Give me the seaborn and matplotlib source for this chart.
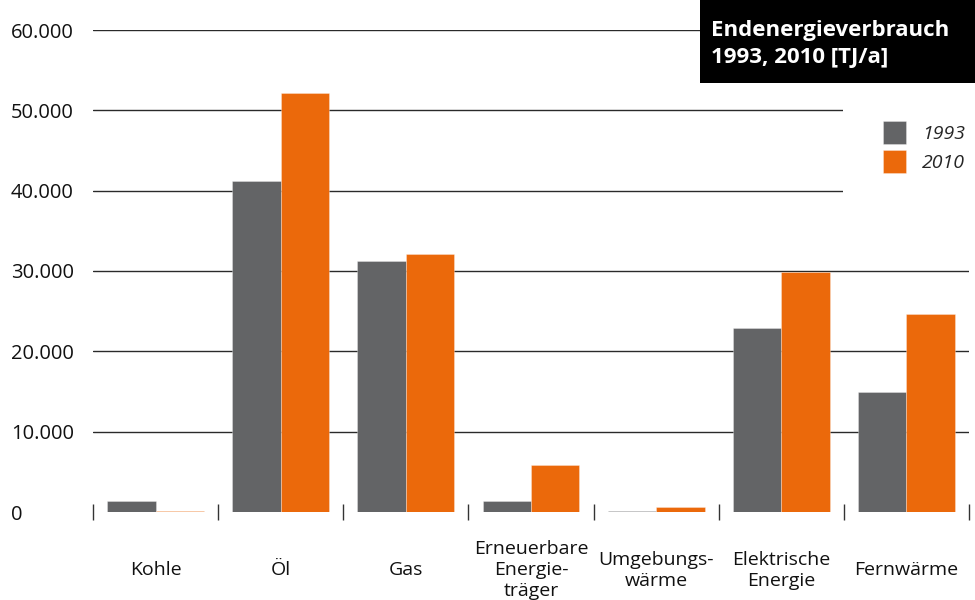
import matplotlib
matplotlib.use("Agg")
import matplotlib.pyplot as plt
from matplotlib.patches import Rectangle
import seaborn as sns
import pandas as pd

# Endenergieverbrauch nach Energieträger, TJ/a
kategorien = ["Kohle", "Öl", "Gas", "Erneuerbare\nEnergie-\nträger",
              "Umgebungs-\nwärme", "Elektrische\nEnergie", "Fernwärme"]
werte_1993 = [1350, 41200, 31300, 1370, 80, 22850, 15000]
werte_2010 = [80, 52150, 32130, 5850, 660, 29850, 24600]
jahre = ["1993", "2010"]
y_ticks = [0, 10000, 20000, 30000, 40000, 50000, 60000]
y_tick_labels = ["0", "10.000", "20.000", "30.000", "40.000", "50.000", "60.000"]
titel = "Endenergieverbrauch\n1993, 2010 [TJ/a]"

GRAU = "#636466"
ORANGE = "#EB690B"

df = pd.DataFrame({
    "Kategorie": kategorien * 2,
    "Wert": werte_1993 + werte_2010,
    "Jahr": [jahre[0]] * len(kategorien) + [jahre[1]] * len(kategorien),
})

sns.set_theme(style="white")
plt.rcParams["font.family"] = ["Open Sans", "DejaVu Sans"]

W, H = 975, 600
fig = plt.figure(figsize=(W / 100, H / 100), dpi=100)
ax = fig.add_axes([93 / W, 88 / H, 876 / W, 482 / H])

sns.barplot(data=df, x="Kategorie", y="Wert", hue="Jahr",
            palette=[GRAU, ORANGE], width=0.775, saturation=1,
            edgecolor=(1, 1, 1, 0.35), linewidth=0.6, ax=ax, legend=True)

ax.set_xlim(-0.5, len(kategorien) - 0.5)
ax.set_ylim(y_ticks[0], y_ticks[-1])
for s in ax.spines.values():
    s.set_visible(False)

# horizontal grid, no line at zero
ax.set_yticks(y_ticks)
ax.set_yticklabels(y_tick_labels, fontsize=14.5, color="#111111")
ax.yaxis.grid(True, color="#2a2a2a", linewidth=1.0)
ax.set_axisbelow(True)
ax.yaxis.get_gridlines()[0].set_visible(False)
ax.tick_params(axis="y", length=0, pad=59)
for lbl in ax.get_yticklabels():
    lbl.set_horizontalalignment("left")

# category labels below, separators between groups
ax.set_xlabel("")
ax.set_ylabel("")
ax.set_xticks(range(len(kategorien)))
ax.set_xticklabels(kategorien, fontsize=14, color="#111111",
                   linespacing=1.22, multialignment="center")
ax.tick_params(axis="x", which="major", bottom=False, length=0, pad=42)
for lbl in ax.get_xticklabels():
    lbl.set_verticalalignment("center")
ax.set_xticks([i - 0.5 for i in range(len(kategorien) + 1)], minor=True)
ax.tick_params(axis="x", which="minor", bottom=True, direction="inout",
               length=11, width=1.0, color="#333333")

# legend on a white panel that interrupts the grid
fig.patches.append(Rectangle((843 / W, 1 - 200 / H), 132 / W, 100 / H,
                             transform=fig.transFigure, facecolor="white",
                             edgecolor="none", zorder=1))
handles, labels = ax.get_legend_handles_labels()
ax.legend_.remove()
fig.legend(handles, labels, loc="upper left",
           bbox_to_anchor=(883 / W, 1 - 121 / H), bbox_transform=fig.transFigure,
           frameon=False, borderpad=0, borderaxespad=0,
           handlelength=1.2, handleheight=1.45,
           handletextpad=0.8, labelspacing=0.3,
           prop={"style": "italic", "size": 14})

# title box
fig.patches.append(Rectangle((700 / W, 1 - 83 / H), 275 / W, 83 / H,
                             transform=fig.transFigure, facecolor="black",
                             edgecolor="none", zorder=2))
fig.text(711 / W, 1 - 44 / H, titel, color="white", fontsize=16,
         fontweight="bold", ha="left", va="center", linespacing=1.35, zorder=3)

fig.savefig("out.png", dpi=100)
